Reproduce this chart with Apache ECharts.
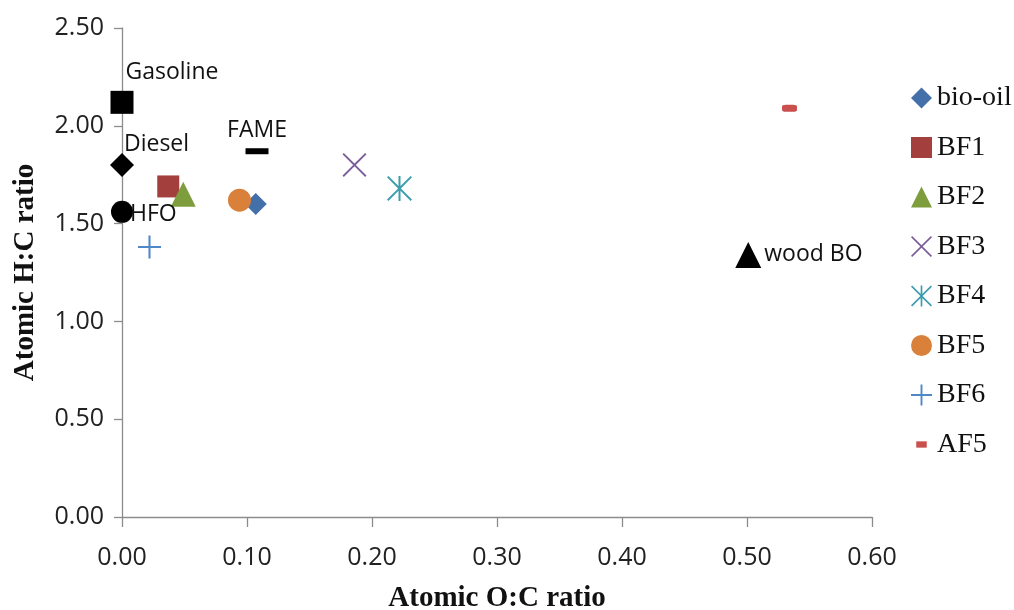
<!DOCTYPE html>
<html><head><meta charset="utf-8">
<script src="https://cdn.jsdelivr.net/npm/echarts@6/dist/echarts.min.js"></script>
<style>html,body{margin:0;padding:0;background:#fff}#c{width:1014px;height:610px}</style>
</head><body><div id="c"></div>
<script>
// Reference fuels (black, labelled, not in legend)
const refNames = ['Gasoline', 'Diesel', 'HFO', 'FAME', 'wood BO'];
const refOC = [0.000, 0.000, 0.000, 0.108, 0.501];
const refHC = [2.12, 1.80, 1.56, 1.87, 1.34];

// Legend series
const seriesNames = ['bio-oil', 'BF1', 'BF2', 'BF3', 'BF4', 'BF5', 'BF6', 'AF5'];
const seriesOC = [0.107, 0.037, 0.049, 0.186, 0.222, 0.094, 0.022, 0.534];
const seriesHC = [1.60, 1.69, 1.65, 1.80, 1.68, 1.62, 1.38, 2.09];

const xTicks = [0.0, 0.1, 0.2, 0.3, 0.4, 0.5, 0.6];
const yTicks = [0.0, 0.5, 1.0, 1.5, 2.0, 2.5];

const colors = ['#4470A9', '#A33F3C', '#7E9E3E', '#7B5D9A', '#3C9DAE', '#D9803A', '#4F87C7', '#C9504D'];
const X_PATH = 'path://M0,0.55 L0.55,0 L5,4.45 L9.45,0 L10,0.55 L5.55,5 L10,9.45 L9.45,10 L5,5.55 L0.55,10 L0,9.45 L4.45,5 Z';
const AST_PATH = 'path://M0,0.55 L0.55,0 L5,4.45 L9.45,0 L10,0.55 L5.55,5 L10,9.45 L9.45,10 L5,5.55 L0.55,10 L0,9.45 L4.45,5 Z M4.6,0 L5.4,0 L5.4,10 L4.6,10 Z';
const PLUS_PATH = 'path://M4.55,0 L5.45,0 L5.45,10 L4.55,10 Z M0,4.55 L10,4.55 L10,5.45 L0,5.45 Z';
const DASH_ICON = 'path://M0,0 M20,20 M5,7 L15,7 L15,13 L5,13 Z';
const symbols = ['diamond', 'rect', 'triangle', X_PATH, AST_PATH, 'circle', PLUS_PATH, 'roundRect'];
const sizes = [22, 22, 25, 24, 25, 23, 23, [15, 7]];
const legendIcons = ['diamond', 'rect', 'triangle', X_PATH, AST_PATH, 'circle', PLUS_PATH, DASH_ICON];

const refSymbols = ['rect', 'diamond', 'circle', 'rect', 'triangle'];
const refSizes = [23, 24, 22, [23, 6], 26];
const sansFont = 'Open Sans';
const refLabels = [
  {position: [15, -30]},
  {position: [14, -20]},
  {position: [19, 2]},
  {position: 'top', distance: 6},
  {position: 'right', distance: 3}
];

const series = [];
seriesNames.forEach((n, i) => {
  series.push({
    name: n, type: 'scatter',
    symbol: symbols[i], symbolSize: sizes[i],
    itemStyle: {color: colors[i], opacity: 1},
    data: [[seriesOC[i], seriesHC[i]]],
    z: 3
  });
});
series.push({
  name: 'ref', type: 'scatter',
  data: refNames.map((n, i) => ({
    value: [refOC[i], refHC[i]],
    name: n,
    symbol: refSymbols[i],
    symbolSize: refSizes[i],
    label: Object.assign({show: true, formatter: n, color: '#111', fontFamily: sansFont, fontSize: 23}, refLabels[i])
  })),
  itemStyle: {color: '#000', opacity: 1},
  z: 4
});

const chart = echarts.init(document.getElementById('c'), null, {renderer: 'canvas'});
chart.setOption({
  animation: false,
  backgroundColor: '#fff',
  grid: {left: 122, right: 142, top: 28, bottom: 93, containLabel: false, outerBoundsMode: 'none'},
  legend: {
    orient: 'vertical', left: 906, top: 79,
    itemWidth: 21, itemHeight: 21, itemGap: 21.5, itemTextGap: 2,
    textStyle: {fontFamily: 'Liberation Serif', fontSize: 28, color: '#111'},
    data: seriesNames.map((n, i) => ({name: n, icon: legendIcons[i]}))
  },
  xAxis: {
    type: 'value', min: 0, max: 0.6, interval: 0.1,
    name: 'Atomic O:C ratio', nameLocation: 'middle', nameGap: 67,
    nameTextStyle: {fontFamily: 'Liberation Serif', fontWeight: 'bold', fontSize: 29, color: '#111'},
    axisLine: {lineStyle: {color: '#8c8c8c', width: 1.3}},
    axisTick: {show: true, length: 10, lineStyle: {color: '#8c8c8c', width: 1.3}},
    splitLine: {show: false},
    axisLabel: {fontFamily: sansFont, fontSize: 25, color: '#222', margin: 28,
      formatter: v => v.toFixed(2)}
  },
  yAxis: {
    type: 'value', min: 0, max: 2.5, interval: 0.5,
    name: 'Atomic H:C ratio', nameLocation: 'middle', nameGap: 82, nameRotate: 90,
    nameTextStyle: {fontFamily: 'Liberation Serif', fontWeight: 'bold', fontSize: 29, color: '#111'},
    axisLine: {show: true, lineStyle: {color: '#8c8c8c', width: 1.3}},
    axisTick: {show: true, length: 8, lineStyle: {color: '#8c8c8c', width: 1.3}},
    splitLine: {show: false},
    axisLabel: {fontFamily: sansFont, fontSize: 25, color: '#222', margin: 18,
      formatter: v => v.toFixed(2)}
  },
  series: series
});
</script></body></html>
